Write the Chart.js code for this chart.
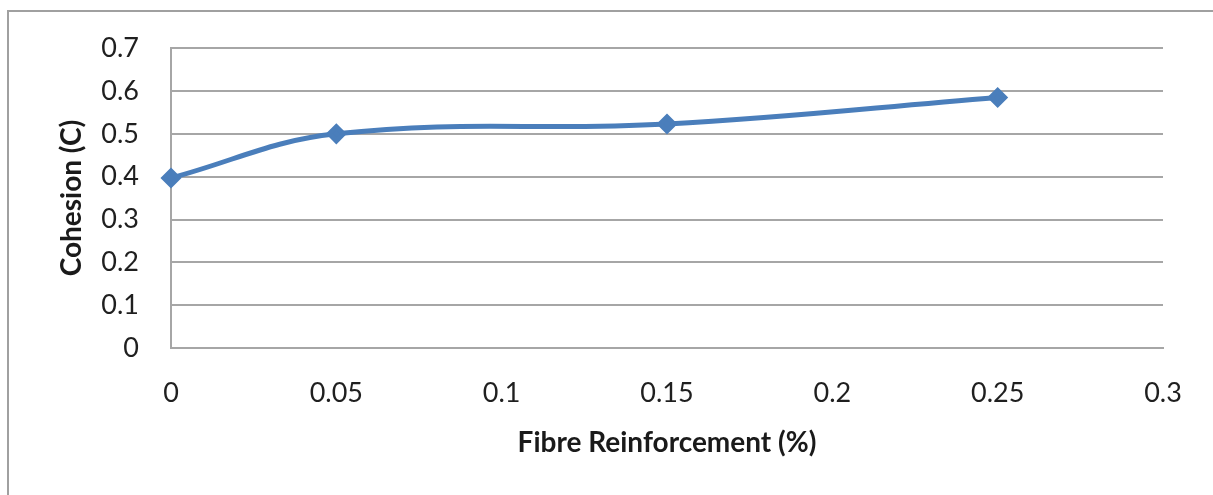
<!DOCTYPE html>
<html>

<head>
  <title>Cohesion vs Fibre Reinforcement</title>
  <script src="https://cdn.jsdelivr.net/npm/chart.js"></script>
  <style>
    html, body {
      margin: 0;
      padding: 0;
      background: #ffffff;
    }
    #wrap {
      width: 1213px;
      height: 495px;
    }
  </style>
</head>

<body>
  <div id="wrap">
    <canvas id="cohesionChart" width="1213" height="495"></canvas>
  </div>

  <script>
    // values
    var fibre = [0, 0.05, 0.15, 0.25];
    var cohesion = [0.397, 0.5, 0.523, 0.585];
    var xTicks = [0, 0.05, 0.1, 0.15, 0.2, 0.25, 0.3];
    var yTicks = [0, 0.1, 0.2, 0.3, 0.4, 0.5, 0.6, 0.7];

    var points = fibre.map(function (f, i) {
      return { x: f, y: cohesion[i] };
    });

    // outer frame of the excel chart (only top and left edges show)
    var frame = {
      id: 'frame',
      beforeDraw: function (chart) {
        var ctx = chart.ctx;
        ctx.save();
        ctx.strokeStyle = '#a0a0a0';
        ctx.lineWidth = 2;
        ctx.beginPath();
        ctx.moveTo(8, 495);
        ctx.lineTo(8, 11);
        ctx.lineTo(1213, 11);
        ctx.stroke();
        ctx.restore();
      }
    };

    var tickFont = { family: 'Lato', size: 27 };
    var titleFont = { family: 'Lato', size: 28, weight: 'bold' };

    new Chart(document.getElementById('cohesionChart').getContext('2d'), {
      type: 'scatter',
      data: {
        datasets: [{
          label: 'Cohesion',
          data: points,
          showLine: true,
          borderColor: '#4a7ebb',
          backgroundColor: '#4a7ebb',
          borderWidth: 5,
          tension: 0.4,
          pointStyle: 'rectRot',
          pointRadius: 7,
          pointHoverRadius: 7,
          clip: false
        }]
      },
      options: {
        responsive: false,
        animation: false,
        layout: {
          padding: { left: 0, top: 46, right: 50, bottom: 0 }
        },
        plugins: {
          legend: { display: false },
          tooltip: { enabled: false }
        },
        scales: {
          x: {
            type: 'linear',
            min: 0,
            max: 0.3,
            afterBuildTicks: function (scale) {
              scale.ticks = xTicks.map(function (v) { return { value: v }; });
            },
            afterFit: function (scale) {
              scale.height = 147;
            },
            grid: { display: false, drawTicks: false },
            border: { display: true, color: '#a6a6a6', width: 2 },
            ticks: {
              color: '#1f1f1f',
              font: tickFont,
              padding: 29,
              maxRotation: 0,
              callback: function (v) { return String(v); }
            },
            title: {
              display: true,
              text: 'Fibre Reinforcement (%)',
              color: '#1a1a1a',
              font: titleFont,
              padding: { top: 0, bottom: 35 }
            }
          },
          y: {
            type: 'linear',
            min: 0,
            max: 0.7,
            afterBuildTicks: function (scale) {
              scale.ticks = yTicks.map(function (v) { return { value: v }; });
            },
            afterFit: function (scale) {
              scale.width = 171;
            },
            grid: { color: '#a6a6a6', lineWidth: 2, drawTicks: false },
            border: { display: true, color: '#a6a6a6', width: 2 },
            ticks: {
              color: '#1f1f1f',
              font: tickFont,
              padding: 32,
              callback: function (v) { return String(v); }
            },
            title: {
              display: true,
              text: 'Cohesion (C)',
              color: '#1a1a1a',
              font: titleFont,
              padding: { top: 55, bottom: 0 }
            }
          }
        }
      },
      plugins: [frame]
    });
  </script>
</body>

</html>
